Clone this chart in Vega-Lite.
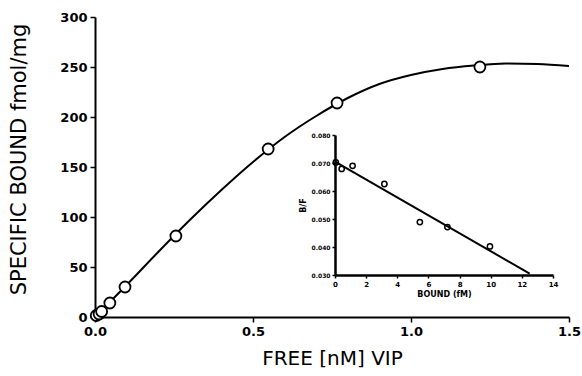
{
  "$schema": "https://vega.github.io/schema/vega-lite/v6.json",
  "width": 474,
  "height": 300,
  "autosize": {"type": "none"},
  "padding": {"left": 95, "top": 17, "right": 13, "bottom": 59},
  "background": "white",
  "config": {
    "view": {"stroke": null},
    "axis": {
      "grid": false,
      "domainColor": "black",
      "domainWidth": 2,
      "tickColor": "black",
      "tickWidth": 1.5,
      "labelColor": "black",
      "titleColor": "black",
      "labelFont": "DejaVu Sans",
      "titleFont": "DejaVu Sans",
      "titleFontWeight": "normal"
    }
  },
  "datasets": {
    "saturation_fit": [
      {"free": 0.0, "bound": 0},
      {"free": 0.05, "bound": 16},
      {"free": 0.1, "bound": 32},
      {"free": 0.2, "bound": 65},
      {"free": 0.3, "bound": 97},
      {"free": 0.4, "bound": 127},
      {"free": 0.5, "bound": 155},
      {"free": 0.6, "bound": 180},
      {"free": 0.7, "bound": 201},
      {"free": 0.8, "bound": 219},
      {"free": 0.9, "bound": 233},
      {"free": 1.0, "bound": 242},
      {"free": 1.1, "bound": 248},
      {"free": 1.2, "bound": 251.5},
      {"free": 1.3, "bound": 253.5},
      {"free": 1.4, "bound": 253},
      {"free": 1.5, "bound": 251}
    ],
    "saturation_obs": [
      {"free": 0.004, "bound": 1.5},
      {"free": 0.013, "bound": 3},
      {"free": 0.021, "bound": 5.5},
      {"free": 0.047, "bound": 14},
      {"free": 0.095, "bound": 30},
      {"free": 0.256, "bound": 81},
      {"free": 0.548, "bound": 168},
      {"free": 0.766, "bound": 214},
      {"free": 1.218, "bound": 250}
    ],
    "scatchard_fit": [
      {"bound": 0.0, "ratio": 0.0705},
      {"bound": 12.5, "ratio": 0.0305}
    ],
    "scatchard_obs": [
      {"bound": 0.05, "ratio": 0.0702},
      {"bound": 0.43, "ratio": 0.0679},
      {"bound": 1.13, "ratio": 0.069},
      {"bound": 3.17, "ratio": 0.0625},
      {"bound": 5.45, "ratio": 0.0489},
      {"bound": 7.22, "ratio": 0.0471},
      {"bound": 9.95, "ratio": 0.0402}
    ]
  },
  "layer": [
    {
      "encoding": {
        "x": {
          "field": "free",
          "type": "quantitative",
          "scale": {"domain": [0, 1.5], "nice": false},
          "axis": {
            "title": "FREE [nM] VIP",
            "values": [0, 0.5, 1, 1.5],
            "format": ".1f",
            "labelFontSize": 13,
            "labelFontWeight": "bold",
            "labelFlush": false,
            "tickSize": 5,
            "labelPadding": 3,
            "titleFontSize": 20,
            "titlePadding": 10
          }
        },
        "y": {
          "field": "bound",
          "type": "quantitative",
          "scale": {"domain": [0, 300], "nice": false},
          "axis": {
            "title": "SPECIFIC BOUND fmol/mg",
            "values": [0, 50, 100, 150, 200, 250, 300],
            "labelFontSize": 13,
            "labelFontWeight": "bold",
            "labelFlush": false,
            "tickSize": 5,
            "labelPadding": 3,
            "titleFontSize": 21,
            "titlePadding": 30,
            "titleY": 142
          }
        }
      },
      "layer": [
        {
          "data": {"name": "saturation_fit"},
          "mark": {"type": "line", "color": "black", "strokeWidth": 2, "interpolate": "monotone"}
        },
        {
          "data": {"name": "saturation_obs"},
          "mark": {"type": "point", "shape": "circle", "size": 120, "filled": true, "fill": "white", "stroke": "black", "strokeWidth": 1.8, "opacity": 1}
        }
      ]
    },
    {
      "encoding": {
        "x": {
          "field": "bound",
          "type": "quantitative",
          "scale": {"domain": [0, 14], "nice": false, "range": [240, 458]},
          "axis": {
            "orient": "bottom",
            "offset": -42,
            "title": "BOUND (fM)",
            "values": [0, 2, 4, 6, 8, 10, 12, 14],
            "labelFontSize": 7,
            "labelFontWeight": "bold",
            "labelFlush": false,
            "tickSize": 3,
            "labelPadding": 2,
            "titleFontSize": 8,
            "titleFontWeight": "bold",
            "titlePadding": 3,
            "domainWidth": 2.5
          }
        },
        "y": {
          "field": "ratio",
          "type": "quantitative",
          "scale": {"domain": [0.03, 0.08], "nice": false, "zero": false, "range": [258, 118]},
          "axis": {
            "orient": "left",
            "offset": -240,
            "title": "B/F",
            "values": [0.03, 0.04, 0.05, 0.06, 0.07, 0.08],
            "format": ".3f",
            "labelFontSize": 6,
            "labelFontWeight": "bold",
            "labelFlush": false,
            "tickSize": 3,
            "labelPadding": 2,
            "titleFontSize": 8,
            "titleFontWeight": "bold",
            "titlePadding": 4,
            "domainWidth": 2.5
          }
        }
      },
      "layer": [
        {
          "data": {"name": "scatchard_fit"},
          "mark": {"type": "line", "color": "black", "strokeWidth": 2}
        },
        {
          "data": {"name": "scatchard_obs"},
          "mark": {"type": "point", "shape": "circle", "size": 28, "filled": false, "stroke": "black", "strokeWidth": 1.5, "opacity": 1}
        }
      ]
    }
  ],
  "resolve": {
    "scale": {"x": "independent", "y": "independent"},
    "axis": {"x": "independent", "y": "independent"}
  }
}
